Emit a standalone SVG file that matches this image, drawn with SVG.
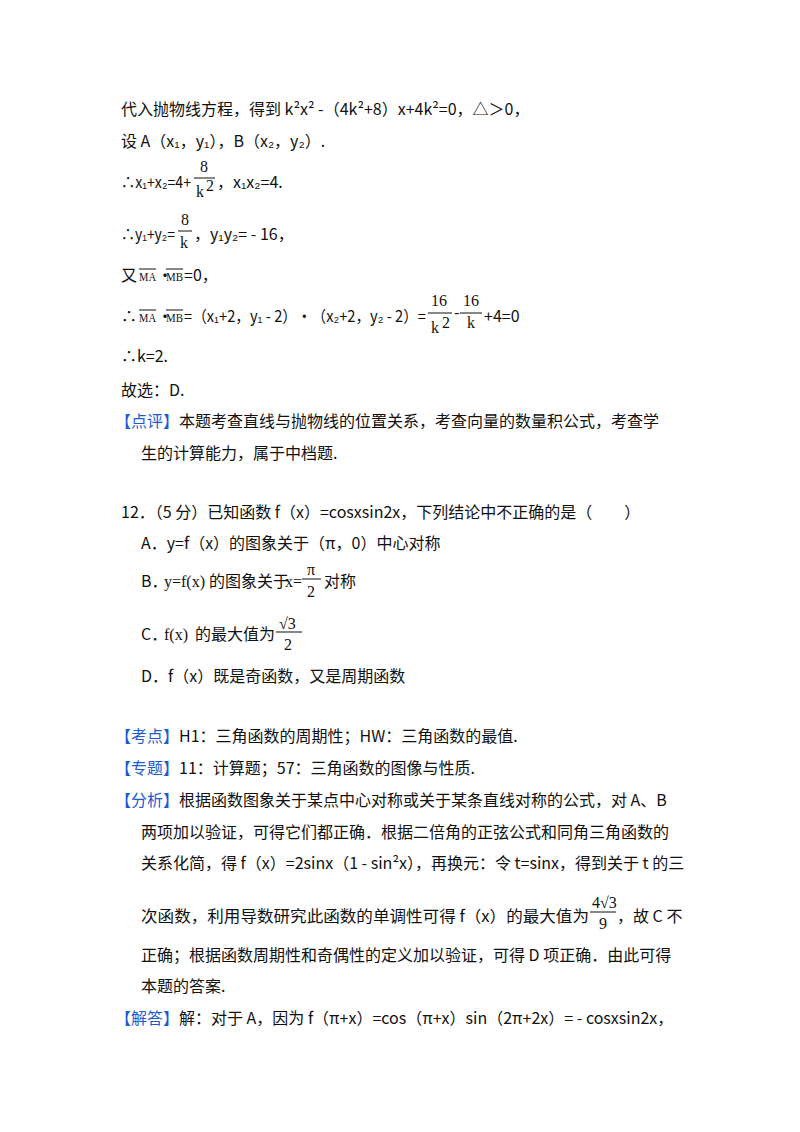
<svg xmlns="http://www.w3.org/2000/svg" width="800" height="1132" viewBox="0 0 800 1132">
<style>
text{font-family:"Noto Sans CJK SC","Liberation Sans",sans-serif;font-size:16px;fill:#111}
.s{font-size:10px}
.m{font-family:"Liberation Serif",serif;font-size:16px}
.v{font-family:"Liberation Serif",serif;font-size:12px}
.b{fill:#1f5bd0}
line{stroke:#111;stroke-width:1}
</style>
<rect width="800" height="1132" fill="#fff"/>
<text x="121" y="115">代入抛物线方程，得到 k²x² -（4k²+8）x+4k²=0，△＞0，</text>
<text x="121" y="147">设 A（x₁，y₁），B（x₂，y₂）.</text>
<text x="121" y="188" textLength="70" lengthAdjust="spacingAndGlyphs">∴x₁+x₂=4+</text>
<text class="m" x="200" y="172">8</text><line x1="194" y1="178" x2="215" y2="178"/><text class="m" x="196" y="197">k</text><text class="m s" x="206" y="191">2</text>
<text x="217" y="188">，x₁x₂=4.</text>
<text x="121" y="240" textLength="54" lengthAdjust="spacingAndGlyphs">∴y₁+y₂=</text>
<text class="m" x="181" y="225">8</text><line x1="178" y1="231" x2="192" y2="231"/><text class="m" x="180" y="248">k</text>
<text x="194" y="240">，y₁y₂= - 16，</text>
<text x="121" y="281">又</text><text class="v" x="139" y="281" textLength="17" lengthAdjust="spacingAndGlyphs">MA</text><line x1="139" y1="269" x2="156" y2="269"/><text x="157" y="281">•</text><text class="v" x="166" y="281" textLength="17" lengthAdjust="spacingAndGlyphs">MB</text><line x1="166" y1="269" x2="183" y2="269"/><text x="184" y="281">=0，</text>
<text x="121" y="322">∴</text><text class="v" x="139" y="322" textLength="17" lengthAdjust="spacingAndGlyphs">MA</text><line x1="139" y1="310" x2="156" y2="310"/><text x="157" y="322">•</text><text class="v" x="166" y="322" textLength="17" lengthAdjust="spacingAndGlyphs">MB</text><line x1="166" y1="310" x2="183" y2="310"/>
<text x="184" y="322" textLength="242" lengthAdjust="spacingAndGlyphs">=（x₁+2，y₁ - 2）•（x₂+2，y₂ - 2）=</text>
<text class="m" x="431" y="306">16</text><line x1="428" y1="313" x2="452" y2="313"/><text class="m" x="431" y="333">k</text><text class="m s" x="442" y="328">2</text>
<text x="454" y="318" font-size="12">-</text>
<text class="m" x="463" y="306">16</text><line x1="460" y1="313" x2="482" y2="313"/><text class="m" x="467" y="328">k</text>
<text x="484" y="322">+4=0</text>
<text x="121" y="362">∴k=2.</text>
<text x="121" y="396">故选：D.</text>
<text x="115" y="427"><tspan class="b">【点评】</tspan>本题考查直线与抛物线的位置关系，考查向量的数量积公式，考查学</text>
<text x="141" y="459">生的计算能力，属于中档题.</text>
<text x="121" y="518">12．（5 分）已知函数 f（x）=cosxsin2x，下列结论中不正确的是（　　）</text>
<text x="141" y="549">A．y=f（x）的图象关于（π，0）中心对称</text>
<text x="141" y="587">B．</text><text class="m" x="164" y="587">y=f(x)</text><text x="209" y="587" font-size="15">的图象关于</text><text class="m" x="285" y="587">x=</text>
<text class="m" x="307" y="575">π</text><line x1="302" y1="579" x2="321" y2="579"/><text class="m" x="307" y="597">2</text><text x="324" y="587" font-size="15">对称</text>
<text x="141" y="640">C．</text><text class="m" x="164" y="640">f(x)</text><text x="195" y="640" font-size="15">的最大值为</text>
<text class="m" x="279" y="629">√3</text><line x1="276" y1="632" x2="302" y2="632"/><text class="m" x="284" y="650">2</text>
<text x="141" y="682">D．f（x）既是奇函数，又是周期函数</text>
<text x="115" y="742"><tspan class="b">【考点】</tspan>H1：三角函数的周期性；HW：三角函数的最值.</text>
<text x="115" y="774"><tspan class="b">【专题】</tspan>11：计算题；57：三角函数的图像与性质.</text>
<text x="115" y="806"><tspan class="b">【分析】</tspan>根据函数图象关于某点中心对称或关于某条直线对称的公式，对 A、B</text>
<text x="141" y="838">两项加以验证，可得它们都正确．根据二倍角的正弦公式和同角三角函数的</text>
<text x="141" y="869">关系化简，得 f（x）=2sinx（1 - sin²x），再换元：令 t=sinx，得到关于 t 的三</text>
<text x="141" y="922" textLength="448" lengthAdjust="spacingAndGlyphs">次函数，利用导数研究此函数的单调性可得 f（x）的最大值为</text>
<text class="m" x="592" y="908" font-size="14">4√3</text><line x1="590" y1="912" x2="616" y2="912"/><text class="m" x="599" y="929" font-size="14">9</text>
<text x="617" y="922">，故 C 不</text>
<text x="141" y="961">正确；根据函数周期性和奇偶性的定义加以验证，可得 D 项正确．由此可得</text>
<text x="141" y="992">本题的答案.</text>
<text x="115" y="1024"><tspan class="b">【解答】</tspan>解：对于 A，因为 f（π+x）=cos（π+x）sin（2π+2x）= - cosxsin2x，</text>
</svg>
